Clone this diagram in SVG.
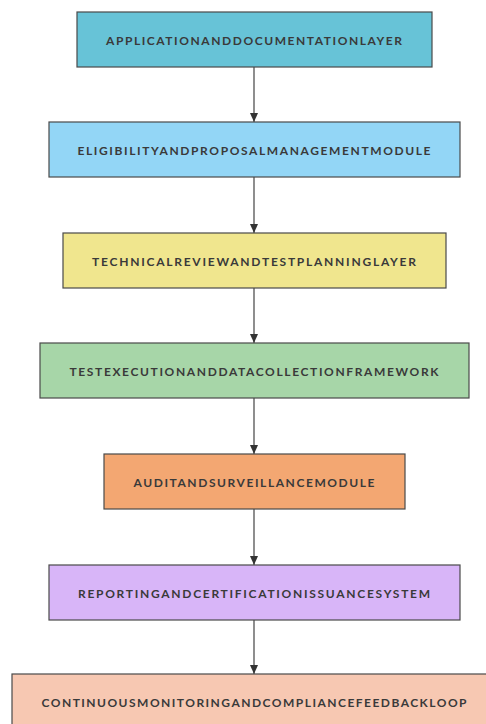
<svg xmlns="http://www.w3.org/2000/svg" width="486" height="724" viewBox="0 0 486 724">
<style>
.box{stroke:#4a4a4a;stroke-width:1.2}
.lbl{font-family:Lato,"Open Sans","DejaVu Sans",sans-serif;font-weight:bold;font-size:12px;fill:#3a3a3a;text-anchor:middle;dominant-baseline:central}
.edge{stroke:#444;stroke-width:1.2;fill:none}
</style>
<defs>
<marker id="arr" markerWidth="10" markerHeight="10" refX="9" refY="5" orient="auto" markerUnits="userSpaceOnUse">
<path d="M0,1 L9,5 L0,9 Z" fill="#333"/>
</marker>
</defs>
<rect width="486" height="724" fill="#ffffff"/>
<g id="connectors">
<line class="edge" x1="254" y1="67" x2="254" y2="122" marker-end="url(#arr)"/>
<line class="edge" x1="254" y1="177" x2="254" y2="233" marker-end="url(#arr)"/>
<line class="edge" x1="254" y1="288" x2="254" y2="343" marker-end="url(#arr)"/>
<line class="edge" x1="254" y1="398" x2="254" y2="454" marker-end="url(#arr)"/>
<line class="edge" x1="254" y1="509" x2="254" y2="565" marker-end="url(#arr)"/>
<line class="edge" x1="254" y1="620" x2="254" y2="674" marker-end="url(#arr)"/>
</g>
<g id="n1"><rect class="box" x="77" y="12" width="355" height="55" fill="#67c3d7"/><text class="lbl" x="254" y="40" textLength="296" lengthAdjust="spacing">APPLICATIONANDDOCUMENTATIONLAYER</text></g>
<g id="n2"><rect class="box" x="49" y="122" width="411" height="55" fill="#93d6f6"/><text class="lbl" x="254" y="150" textLength="353" lengthAdjust="spacing">ELIGIBILITYANDPROPOSALMANAGEMENTMODULE</text></g>
<g id="n3"><rect class="box" x="63" y="233" width="383" height="55" fill="#f0e68e"/><text class="lbl" x="254" y="261" textLength="324" lengthAdjust="spacing">TECHNICALREVIEWANDTESTPLANNINGLAYER</text></g>
<g id="n4"><rect class="box" x="40" y="343" width="429" height="55" fill="#a7d6a8"/><text class="lbl" x="254" y="371" textLength="369" lengthAdjust="spacing">TESTEXECUTIONANDDATACOLLECTIONFRAMEWORK</text></g>
<g id="n5"><rect class="box" x="104" y="454" width="301" height="55" fill="#f3a772"/><text class="lbl" x="254" y="482" textLength="241" lengthAdjust="spacing">AUDITANDSURVEILLANCEMODULE</text></g>
<g id="n6"><rect class="box" x="49" y="565" width="411" height="55" fill="#d8b5f8"/><text class="lbl" x="254" y="593" textLength="352" lengthAdjust="spacing">REPORTINGANDCERTIFICATIONISSUANCESYSTEM</text></g>
<g id="n7"><rect class="box" x="12" y="674" width="484" height="55" fill="#f7c8b2"/><text class="lbl" x="254" y="702" textLength="425" lengthAdjust="spacing">CONTINUOUSMONITORINGANDCOMPLIANCEFEEDBACKLOOP</text></g>
</svg>
